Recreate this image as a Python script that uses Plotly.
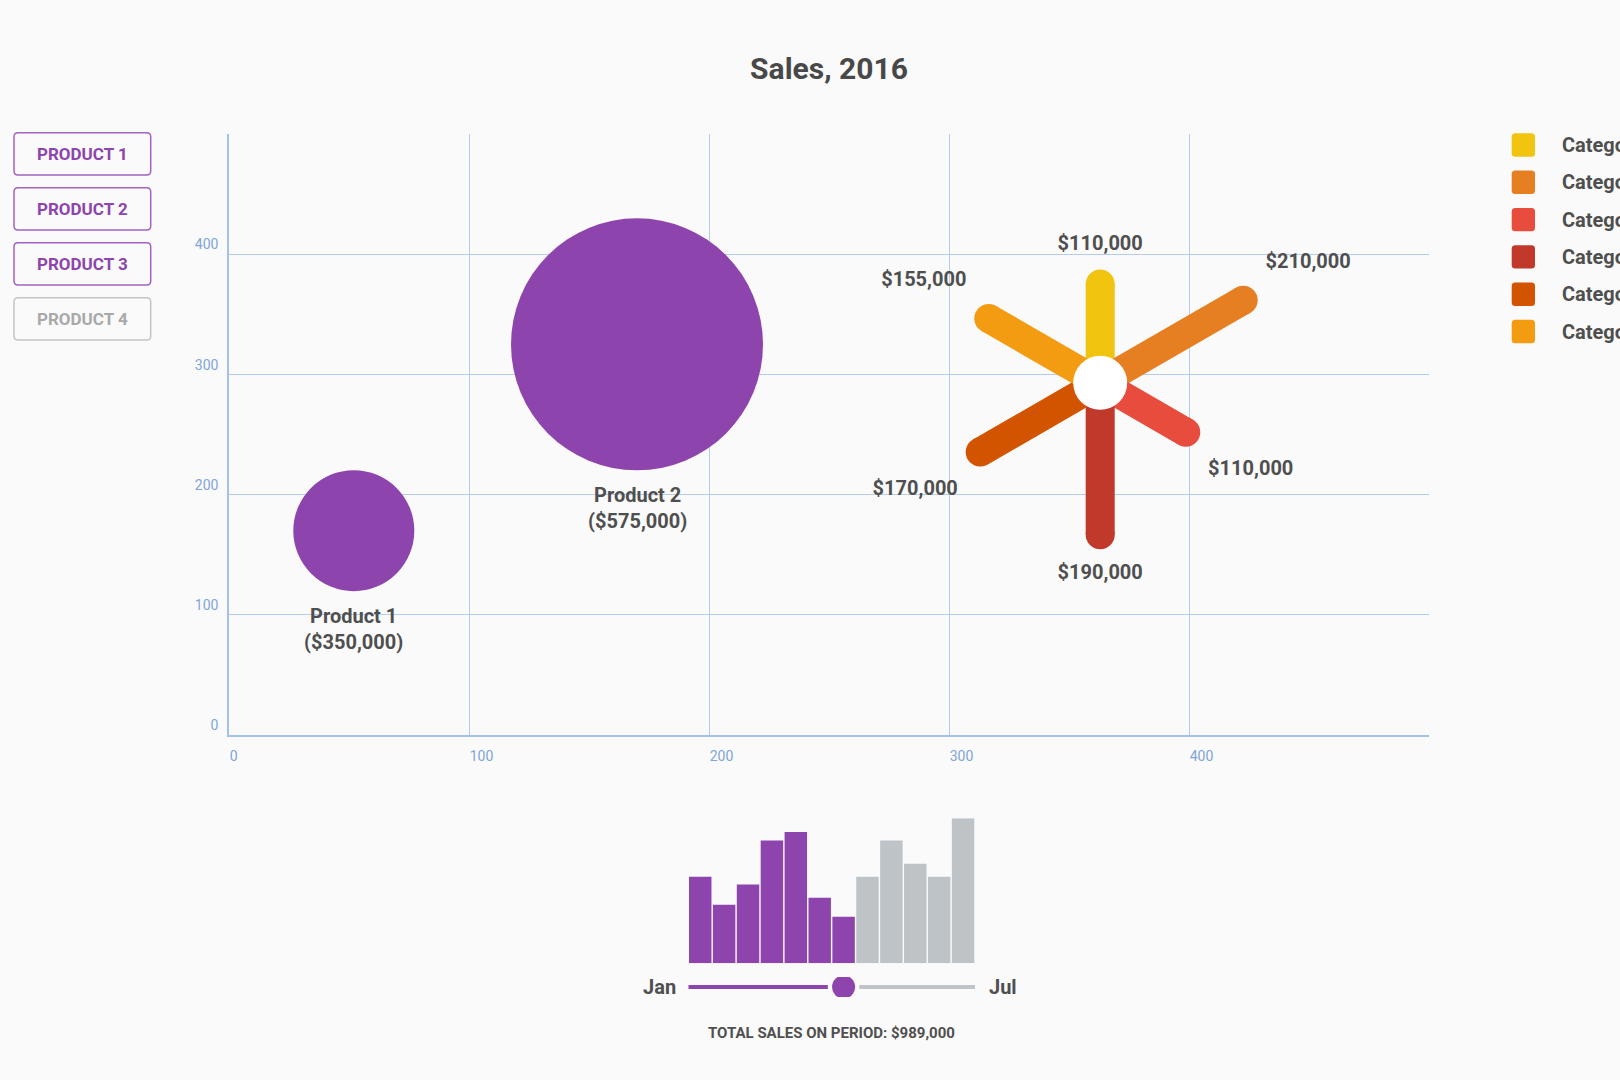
import plotly.graph_objects as go

W, H = 1620, 1080

# ---------------- data ----------------
product_buttons = ["PRODUCT 1", "PRODUCT 2", "PRODUCT 3", "PRODUCT 4"]
product_active = [True, True, True, False]

bubble_names = ["Product 1", "Product 2"]
bubble_x = [52, 170]
bubble_y = [170, 325]
bubble_sales = [350000, 575000]

radial_x = 363
radial_y = 293
categories = ["Category 1", "Category 2", "Category 3", "Category 4", "Category 5", "Category 6"]
category_sales = [110000, 210000, 110000, 190000, 170000, 155000]
category_angle = [90, 30, -30, -90, -150, 150]
category_colors = ["#f1c40f", "#e67e22", "#e74c3c", "#c0392b", "#d35400", "#f39c12"]

periods = ["Jan 1", "Jan 16", "Feb 1", "Feb 16", "Mar 1", "Mar 16",
           "Apr 1", "Apr 16", "May 1", "May 16", "Jun 1", "Jun 16"]
period_sales = [145000, 98000, 132000, 206000, 220000, 110000,
                78000, 145000, 206000, 167000, 145000, 243000]
selected_periods = 7
slider_labels = ["Jan", "Jul"]

x_ticks = [0, 100, 200, 300, 400]
y_ticks = [0, 100, 200, 300, 400]
axis_range = [0, 500]

# ---------------- styles ----------------
PURPLE = "#8e44ad"
GRAY_BAR = "#bdc3c7"
TEXT = "#4f4f4f"
GRID = "#b3cdee"
AXIS = "#a3c2ea"
TICK = "#7ea6d8"
BG = "#fafafa"
FONT = "Roboto"

# main plot area in px
L, R, T, B = 229, 1429, 134, 735


def fx(p):
    return p / W


def fy(p):
    return 1 - p / H


def rrect(x0, y0, x1, y1, r):
    pts = [
        f"M{fx(x0 + r)},{fy(y0)}", f"L{fx(x1 - r)},{fy(y0)}",
        f"Q{fx(x1)},{fy(y0)} {fx(x1)},{fy(y0 + r)}", f"L{fx(x1)},{fy(y1 - r)}",
        f"Q{fx(x1)},{fy(y1)} {fx(x1 - r)},{fy(y1)}", f"L{fx(x0 + r)},{fy(y1)}",
        f"Q{fx(x0)},{fy(y1)} {fx(x0)},{fy(y1 - r)}", f"L{fx(x0)},{fy(y0 + r)}",
        f"Q{fx(x0)},{fy(y0)} {fx(x0 + r)},{fy(y0)}", "Z",
    ]
    return " ".join(pts)


def bubble_diameter(v):
    # linear size scale: 350k -> 121px, 575k -> 252px
    return 121 + (v - 350000) * (252 - 121) / (575000 - 350000)


fig = go.Figure()

# ---------------- bubbles ----------------
diams = [bubble_diameter(v) for v in bubble_sales]
fig.add_trace(go.Scatter(
    x=bubble_x, y=bubble_y, mode="markers",
    marker=dict(size=diams, sizemode="diameter", color=PURPLE, line=dict(width=0), opacity=1),
    xaxis="x", yaxis="y", hoverinfo="skip", showlegend=False,
))

annotations = []
for name, x, y, v, d in zip(bubble_names, bubble_x, bubble_y, bubble_sales, diams):
    annotations.append(dict(
        x=x, y=y, xref="x", yref="y", text=f"{name}<br>(${v:,})", showarrow=False,
        yanchor="top", xanchor="center", yshift=-(d / 2 + 11),
        font=dict(family=FONT, size=20, color=TEXT, weight=700),
    ))

# ---------------- radial (polar) ----------------
cx = L + (radial_x - axis_range[0]) / (axis_range[1] - axis_range[0]) * (R - L)
cy = B - (radial_y - axis_range[0]) / (axis_range[1] - axis_range[0]) * (B - T)
PR = 250  # polar radius px
spoke_range = [-39000, 338000]
px_per_dollar = PR / (spoke_range[1] - spoke_range[0])

for name, v, a, c in zip(categories, category_sales, category_angle, category_colors):
    fig.add_trace(go.Scatterpolar(
        r=[spoke_range[0], v], theta=[a, a], mode="lines+markers",
        line=dict(color=c, width=29), marker=dict(size=29, color=c, line=dict(width=0)),
        subplot="polar", hoverinfo="skip", showlegend=False,
    ))

label_pad = [39 if abs(a) == 90 else 75 for a in category_angle]
fig.add_trace(go.Scatterpolar(
    r=[v + p / px_per_dollar for v, p in zip(category_sales, label_pad)],
    theta=category_angle, mode="text", text=[f"${v:,}" for v in category_sales],
    textposition="middle center", cliponaxis=False,
    textfont=dict(family=FONT, size=20, color=TEXT, weight=700),
    subplot="polar", hoverinfo="skip", showlegend=False,
))
fig.add_trace(go.Scatterpolar(
    r=[spoke_range[0]], theta=[0], mode="markers",
    marker=dict(size=54, color="#ffffff", line=dict(width=0)),
    subplot="polar", hoverinfo="skip", showlegend=False, cliponaxis=False,
))

# ---------------- bar chart ----------------
bar_colors = [PURPLE if i < selected_periods else GRAY_BAR for i in range(len(periods))]
fig.add_trace(go.Bar(
    x=list(range(len(periods))), y=period_sales, marker=dict(color=bar_colors, line=dict(width=0)),
    xaxis="x2", yaxis="y2", hovertext=periods, hoverinfo="text", showlegend=False,
))

# slider
knob = selected_periods - 1
gap = 0.66
fig.add_trace(go.Scatter(
    x=[-0.5, knob - gap], y=[0, 0], mode="lines", line=dict(color=PURPLE, width=4),
    xaxis="x2", yaxis="y3", hoverinfo="skip", showlegend=False,
))
fig.add_trace(go.Scatter(
    x=[knob + gap, len(periods) - 0.5], y=[0, 0], mode="lines", line=dict(color=GRAY_BAR, width=4),
    xaxis="x2", yaxis="y3", hoverinfo="skip", showlegend=False,
))
fig.add_trace(go.Scatter(
    x=[knob], y=[0], mode="markers", marker=dict(size=23, color=PURPLE, line=dict(width=0)),
    xaxis="x2", yaxis="y3", hoverinfo="skip", showlegend=False,
))
annotations.append(dict(x=-0.5, y=0, xref="x2", yref="y3", text=slider_labels[0], showarrow=False,
                        xanchor="right", yanchor="middle", xshift=-10,
                        font=dict(family=FONT, size=20, color=TEXT, weight=700)))
annotations.append(dict(x=len(periods) - 0.5, y=0, xref="x2", yref="y3", text=slider_labels[1],
                        showarrow=False, xanchor="left", yanchor="middle", xshift=12,
                        font=dict(family=FONT, size=20, color=TEXT, weight=700)))
total = sum(period_sales[:selected_periods])
bx0, bx1 = 688.3, 975
annotations.append(dict(x=fx((bx0 + bx1) / 2), y=fy(1033), xref="paper", yref="paper",
                        xanchor="center", yanchor="middle",
                        text=f"TOTAL SALES ON PERIOD: ${total:,}", showarrow=False,
                        font=dict(family=FONT, size=15, color=TEXT, weight=700)))

# ---------------- buttons ----------------
shapes = []
for i, (lab, act) in enumerate(zip(product_buttons, product_active)):
    y0 = 132.7 + 55 * i
    y1 = y0 + 42.3
    col = PURPLE if act else "#a9a9a9"
    bcol = "#a361c0" if act else "#c4c4c4"
    shapes.append(dict(type="path", path=rrect(14, y0, 150.7, y1, 4), xref="paper", yref="paper",
                       line=dict(color=bcol, width=1.5), fillcolor="rgba(0,0,0,0)", layer="above"))
    annotations.append(dict(x=fx(82.3), y=fy((y0 + y1) / 2), xref="paper", yref="paper", text=lab,
                            xanchor="center", yanchor="middle",
                            showarrow=False, font=dict(family=FONT, size=17, color=col, weight=700)))

# ---------------- legend ----------------
for i, (name, c) in enumerate(zip(categories, category_colors)):
    yc = 145 + 37.3 * i
    shapes.append(dict(type="path", path=rrect(1511.7, yc - 11.7, 1535, yc + 11.7, 3.5),
                       xref="paper", yref="paper", line=dict(width=0), fillcolor=c))
    annotations.append(dict(x=fx(1560), y=fy(yc), xref="paper", yref="paper", text=name,
                            showarrow=False, xanchor="left", yanchor="middle",
                            font=dict(family=FONT, size=20, color=TEXT, weight=700)))

fig.update_layout(
    width=W, height=H, margin=dict(l=0, r=0, t=0, b=0),
    paper_bgcolor=BG, plot_bgcolor=BG,
    font=dict(family=FONT, color=TEXT),
    title=dict(text="Sales, 2016", x=(L + R) / 2 / W, xref="container", y=fy(68), yref="container",
               xanchor="center", yanchor="middle",
               font=dict(family=FONT, size=30, color="#484848", weight=700)),
    xaxis=dict(domain=[fx(L), fx(R)], range=axis_range, tickvals=x_ticks, showgrid=True,
               gridcolor=GRID, gridwidth=1, zeroline=False, showline=True, linecolor=AXIS,
               linewidth=1.5, ticks="", ticklabelposition="outside right", ticklabelstandoff=7,
               tickfont=dict(family=FONT, size=14, color=TICK), anchor="y", fixedrange=True),
    yaxis=dict(domain=[fy(B), fy(T)], range=axis_range, tickvals=y_ticks, showgrid=True,
               gridcolor=GRID, gridwidth=1, zeroline=False, showline=True, linecolor=AXIS,
               linewidth=1.5, ticks="", ticklabelposition="outside top", ticklabelstandoff=6,
               tickfont=dict(family=FONT, size=14, color=TICK), anchor="x", fixedrange=True),
    xaxis2=dict(domain=[fx(bx0), fx(bx1)], range=[-0.5, len(periods) - 0.5], visible=False,
                anchor="y2", fixedrange=True),
    yaxis2=dict(domain=[fy(963.3), fy(818.3)], range=[0, max(period_sales)], visible=False,
                anchor="x2", fixedrange=True),
    yaxis3=dict(domain=[fy(997), fy(977)], range=[-1, 1], visible=False, anchor="x2", fixedrange=True),
    polar=dict(
        domain=dict(x=[fx(cx - PR), fx(cx + PR)], y=[fy(cy + PR), fy(cy - PR)]),
        bgcolor="rgba(0,0,0,0)", hole=0,
        radialaxis=dict(visible=False, range=spoke_range),
        angularaxis=dict(visible=False, direction="counterclockwise", rotation=0),
    ),
    bargap=0.06,
    shapes=shapes,
    annotations=annotations,
    showlegend=False,
)

fig.write_html("out.html", config={"displayModeBar": False},
               post_script="document.body.style.margin='0';document.body.style.overflow='hidden';")
